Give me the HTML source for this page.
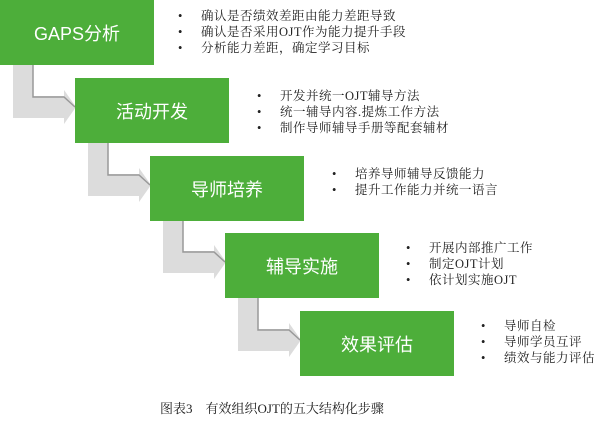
<!DOCTYPE html>
<html><head><meta charset="utf-8"><style>
body{margin:0;width:600px;height:422px;background:#fff;position:relative;overflow:hidden;font-family:"Liberation Sans","Noto Sans CJK SC",sans-serif}
.b{position:absolute;width:154px;height:65px;background:#4dae3a;color:#fff;font-size:18px;display:flex;align-items:center;justify-content:center}
.t{position:absolute;font-size:12.5px;color:#222;line-height:16px;white-space:nowrap;font-family:"Liberation Serif","Noto Serif CJK SC",serif;letter-spacing:0.5px}
.t div{position:relative;padding-left:23px}
.t div:before{content:"•";position:absolute;left:0}
</style></head><body>
<svg width="600" height="422" style="position:absolute;left:0;top:0">
<g fill="#dcdcdc" stroke="none">
<polygon points="13,65 33,65 33,96 64,96 64,90 76,107 64,124 64,118 13,118"/>
<polygon points="88,143 108,143 108,174 139,174 139,168 151,185 139,202 139,196 88,196"/>
<polygon points="163,220 183,220 183,251 214,251 214,245 226,262 214,279 214,273 163,273"/>
<polygon points="238,298 258,298 258,329 289,329 289,323 301,340 289,357 289,351 238,351"/>
</g>
<g fill="none" stroke="#999" stroke-width="1.5">
<polyline points="33,65 33,97 64,97 75,107"/>
<polyline points="108,143 108,175 139,175 150,185"/>
<polyline points="183,220 183,252 214,252 225,262"/>
<polyline points="258,298 258,330 289,330 300,340"/>
</g>
</svg>
<div class="b" style="left:0;top:0">GAPS分析</div>
<div class="b" style="top:78px;left:75px">活动开发</div>
<div class="b" style="left:150px;top:156px">导师培养</div>
<div class="b" style="left:225px;top:233px">辅导实施</div>
<div class="b" style="left:300px;top:311px">效果评估</div>
<div class="t" style="left:178px;top:8px"><div>确认是否绩效差距由能力差距导致</div><div>确认是否采用OJT作为能力提升手段</div><div>分析能力差距，确定学习目标</div></div>
<div class="t" style="left:257px;top:88px"><div>开发并统一OJT辅导方法</div><div>统一辅导内容.提炼工作方法</div><div>制作导师辅导手册等配套辅材</div></div>
<div class="t" style="left:332px;top:166px"><div>培养导师辅导反馈能力</div><div>提升工作能力并统一语言</div></div>
<div class="t" style="left:406px;top:240px"><div>开展内部推广工作</div><div>制定OJT计划</div><div>依计划实施OJT</div></div>
<div class="t" style="left:481px;top:318px"><div>导师自检</div><div>导师学员互评</div><div>绩效与能力评估</div></div>
<div style="position:absolute;left:160px;top:398px;font-size:13px;color:#222;white-space:pre;font-family:'Liberation Serif','Noto Serif CJK SC',serif">图表3    有效组织OJT的五大结构化步骤</div>
</body></html>
